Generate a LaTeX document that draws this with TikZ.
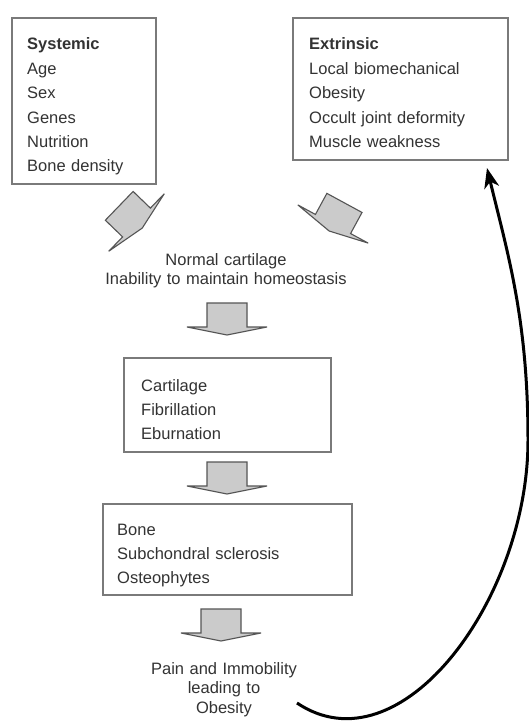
\documentclass[tikz,border=0pt]{standalone}
\usepackage{fontspec}
\setmainfont{Liberation Sans}
\usetikzlibrary{arrows.meta,calc}
\definecolor{txt}{HTML}{333333}
\definecolor{boxline}{HTML}{7A7A7A}
\definecolor{arrfill}{HTML}{CBCBCB}
\definecolor{arrline}{HTML}{555555}
\newcommand{\blkarrow}[2]{%
  \filldraw[blkarrowstyle, shift={#1}, rotate=#2]
    (-20,-24) -- (20,-24) -- (20,0) -- (40,0) -- (0,8) -- (-40,0) -- (-20,0) -- cycle;}
\begin{document}
\begin{tikzpicture}[x=1pt,y=-1pt,
  boxstyle/.style={draw=boxline, line width=1.5pt, outer sep=0pt, inner sep=0pt, anchor=north west},
  txtblock/.style={text=txt, inner sep=0pt, align=left, anchor=base west,
    font={\fontsize{16.5}{24.4}\selectfont}},
  ctrblock/.style={text=txt, inner sep=0pt, align=center, anchor=base, text width=300pt,
    font={\fontsize{16.5}{19.5}\selectfont}},
  blkarrowstyle/.style={fill=arrfill, draw=arrline, line width=1.1pt, line join=miter},
  looparrow/.style={draw=black, line width=3pt, -{Stealth[length=20pt,width=15pt,inset=6pt]}}
]
\useasboundingbox[fill=white] (0,0) rectangle (528,722);

% boxes
\node[boxstyle, minimum width=144pt, minimum height=166pt] (sys) at (12,18) {};
\node[boxstyle, minimum width=215pt, minimum height=142pt] (ext) at (293,18) {};
\node[boxstyle, minimum width=207pt, minimum height=94pt] (cart) at (124,358) {};
\node[boxstyle, minimum width=249pt, minimum height=91pt] (bone) at (103,504) {};

% box texts
\node[txtblock, text width=120pt] (systxt) at (27,50)
  {\textbf{Systemic}\\Age\\Sex\\Genes\\Nutrition\\Bone density};
\node[txtblock, text width=190pt] (exttxt) at (309,50)
  {\textbf{Extrinsic}\\Local biomechanical\\Obesity\\Occult joint deformity\\Muscle weakness};
\node[txtblock, text width=180pt] (carttxt) at (141,391)
  {Cartilage\\Fibrillation\\Eburnation};
\node[txtblock, text width=225pt] (bonetxt) at (117,535)
  {Bone\\Subchondral sclerosis\\Osteophytes};

% free texts
\node[ctrblock] (normal) at (226,265)
  {Normal cartilage\\Inability to maintain homeostasis};
\node[ctrblock] (pain) at (224,674)
  {Pain and Immobility\\leading to\\Obesity};

% block arrows
\blkarrow{(136.5,222.5)}{46}
\blkarrow{(333,224)}{-28.5}
\blkarrow{($(cart.north)+(-0.5,-31)$)}{0}
\blkarrow{($(cart.south)+(-0.5,34)$)}{0}
\blkarrow{($(bone.south)+(-6.5,38)$)}{0}

% feedback loop
\coordinate (cstart) at (297,703);
\coordinate (ctip) at ($(ext.south east)+(-21,8)$);
\draw[looparrow] (cstart) .. controls (400,772) and (528,600) .. (528,440)
  .. controls (528,320) and (508,255) .. (ctip);
\end{tikzpicture}
\end{document}
